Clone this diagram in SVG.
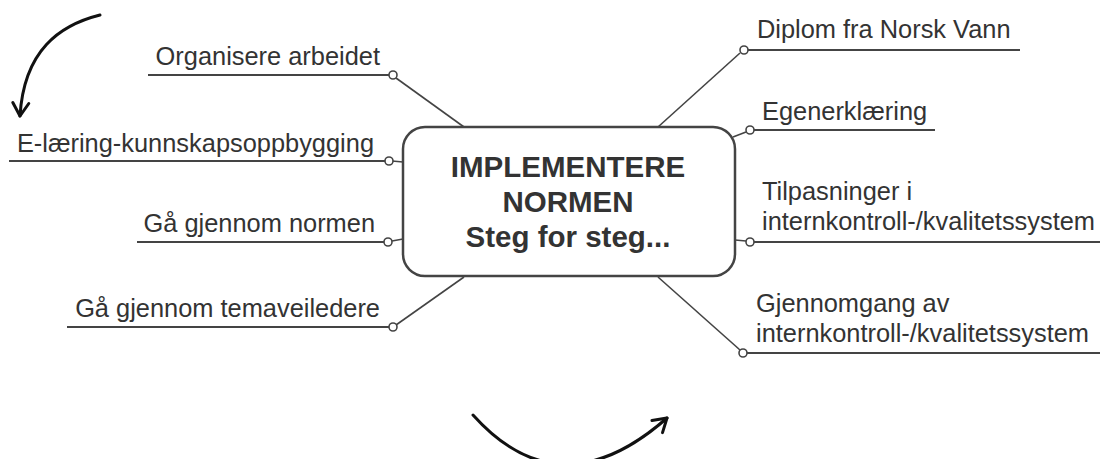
<svg xmlns="http://www.w3.org/2000/svg" width="1100" height="459" viewBox="0 0 1100 459">
<defs>
<style>
.lbl{font-family:"Liberation Sans",Arial,sans-serif;font-size:25.4px;fill:#333}
.ctr{font-family:"Liberation Sans",Arial,sans-serif;font-size:29.5px;font-weight:bold;fill:#333;text-anchor:middle}
.ul{stroke:#444;stroke-width:2;fill:none}
.con{stroke:#444;stroke-width:1.6;fill:none}
.dot{stroke:#444;stroke-width:1.6;fill:#fff}
.arr{stroke:#111;stroke-width:3;fill:none;stroke-linecap:round}
</style>
<marker id="ah" markerUnits="userSpaceOnUse" markerWidth="30" markerHeight="30" viewBox="-15 -15 30 30" refX="0" refY="0" orient="auto">
<path d="M-13,-8 L0,0 L-13,8" fill="none" stroke="#111" stroke-width="3" stroke-linecap="round" stroke-linejoin="round"/>
</marker>
</defs>
<rect width="1100" height="459" fill="#fff"/>

<g id="connectors">
<line class="con" x1="396" y1="78" x2="464" y2="127"/>
<line class="con" x1="392" y1="161" x2="403" y2="162"/>
<line class="con" x1="392" y1="241" x2="403" y2="239"/>
<line class="con" x1="396" y1="325" x2="464" y2="277"/>
<line class="con" x1="740" y1="53" x2="658" y2="127"/>
<line class="con" x1="746" y1="132" x2="733" y2="137"/>
<line class="con" x1="746" y1="241" x2="735" y2="240"/>
<line class="con" x1="740" y1="350" x2="658" y2="277"/>
<circle class="dot" cx="393" cy="75" r="4"/>
<circle class="dot" cx="389" cy="161" r="4"/>
<circle class="dot" cx="388" cy="242" r="4"/>
<circle class="dot" cx="393" cy="327" r="4"/>
<circle class="dot" cx="744" cy="50" r="4"/>
<circle class="dot" cx="750" cy="130" r="4"/>
<circle class="dot" cx="750" cy="242" r="4"/>
<circle class="dot" cx="743" cy="353" r="4"/>
</g>

<g id="center">
<rect x="403" y="127" width="332" height="149" rx="22" ry="22" fill="#fff" stroke="#444" stroke-width="2.5"/>
<text class="ctr" x="568" y="177">IMPLEMENTERE</text>
<text class="ctr" x="568" y="212">NORMEN</text>
<text class="ctr" x="568" y="247">Steg for steg...</text>
</g>

<g id="n-organisere">
<line class="ul" x1="148" y1="75" x2="389" y2="75"/>
<text class="lbl" x="380" y="65" text-anchor="end">Organisere arbeidet</text>
</g>
<g id="n-elaering">
<line class="ul" x1="9" y1="161" x2="385" y2="161"/>
<text class="lbl" x="374" y="152" text-anchor="end">E-læring-kunnskapsoppbygging</text>
</g>
<g id="n-normen">
<line class="ul" x1="137" y1="242" x2="384" y2="242"/>
<text class="lbl" x="375" y="232" text-anchor="end">Gå gjennom normen</text>
</g>
<g id="n-tema">
<line class="ul" x1="67" y1="327" x2="389" y2="327"/>
<text class="lbl" x="380" y="317" text-anchor="end">Gå gjennom temaveiledere</text>
</g>
<g id="n-diplom">
<line class="ul" x1="748" y1="50" x2="1020" y2="50"/>
<text class="lbl" x="757" y="38">Diplom fra Norsk Vann</text>
</g>
<g id="n-egen">
<line class="ul" x1="754" y1="130" x2="935" y2="130"/>
<text class="lbl" x="762" y="120">Egenerklæring</text>
</g>
<g id="n-tilpas">
<line class="ul" x1="754" y1="242" x2="1100" y2="242"/>
<text class="lbl" x="762" y="200">Tilpasninger i</text>
<text class="lbl" x="762" y="230">internkontroll-/kvalitetssystem</text>
</g>
<g id="n-gjennomgang">
<line class="ul" x1="747" y1="353" x2="1100" y2="353"/>
<text class="lbl" x="756" y="312">Gjennomgang av</text>
<text class="lbl" x="756" y="342">internkontroll-/kvalitetssystem</text>
</g>

<g id="arrows">
<path class="arr" d="M100,15 C60,25 24,50 20,116" marker-end="url(#ah)"/>
<path class="arr" d="M473,415 Q560,512 667,418" marker-end="url(#ah)"/>
</g>
</svg>
